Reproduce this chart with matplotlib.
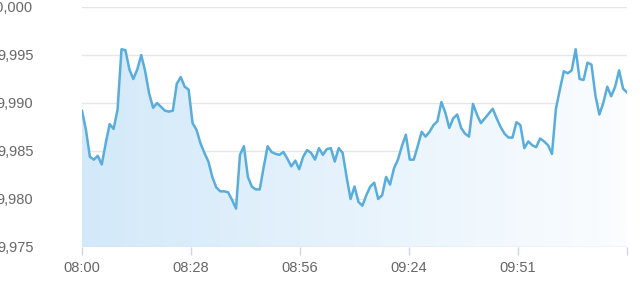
import numpy as np
import matplotlib
matplotlib.use("Agg")
import matplotlib.pyplot as plt
from matplotlib.colors import LinearSegmentedColormap

# One value per minute, starting 08:00
prices = [
    9.9892, 9.9872, 9.9844, 9.9841, 9.9845, 9.9836, 9.9858, 9.9878, 9.9873, 9.9893,
    9.9956, 9.9955, 9.9935, 9.9925, 9.9935, 9.9950, 9.9933, 9.9910, 9.9895, 9.9900,
    9.9896, 9.9892, 9.9891, 9.9892, 9.9920, 9.9927, 9.9917, 9.9914, 9.9879, 9.9872,
    9.9858, 9.9848, 9.9839, 9.9823, 9.9812, 9.9808, 9.9808, 9.9807, 9.9799, 9.9790,
    9.9846, 9.9855, 9.9823, 9.9813, 9.9810, 9.9810, 9.9833,
    9.9855, 9.9849, 9.9847, 9.9846, 9.9849, 9.9842, 9.9834, 9.9840, 9.9831, 9.9844,
    9.9851, 9.9848, 9.9841, 9.9853, 9.9846, 9.9852, 9.9853, 9.9839, 9.9853, 9.9848,
    9.9823, 9.9800, 9.9813, 9.9797, 9.9793, 9.9804, 9.9813, 9.9817, 9.9800, 9.9804,
    9.9823, 9.9815, 9.9832, 9.9841, 9.9855, 9.9867, 9.9841, 9.9841, 9.9855, 9.9870,
    9.9865, 9.9870, 9.9877, 9.9881, 9.9901, 9.9890, 9.9874,
    9.9884, 9.9888, 9.9874, 9.9868, 9.9865, 9.9899, 9.9888, 9.9879, 9.9884, 9.9889,
    9.9894, 9.9884, 9.9875, 9.9868, 9.9864, 9.9864, 9.9880, 9.9877, 9.9853, 9.9860,
    9.9856, 9.9854, 9.9863, 9.9860, 9.9856, 9.9847, 9.9894, 9.9914, 9.9933, 9.9931,
    9.9934, 9.9956, 9.9925, 9.9924, 9.9942, 9.9940, 9.9908, 9.9888, 9.9900, 9.9917,
    9.9907, 9.9917, 9.9934, 9.9915, 9.9911,
]
x_labels = ["08:00", "08:28", "08:56", "09:24", "09:51"]
y_ticks = [9.975, 9.980, 9.985, 9.990, 9.995, 10.000]

x = np.arange(len(prices))
y = np.array(prices)
x_end = x[-1]

fig = plt.figure(figsize=(6.4, 2.81), dpi=100)
ax = fig.add_axes([82 / 640, 1 - 247 / 281, 545 / 640, 240 / 281])

ymin, ymax = y_ticks[0], y_ticks[-1]

# gradient area under the line (left: light blue, right: almost white)
cmap = LinearSegmentedColormap.from_list("fade", ["#d3e9f9", "#fbfdff"])
grad = np.linspace(0, 1, 256).reshape(1, -1)
img = ax.imshow(grad, cmap=cmap, aspect="auto", extent=[0, x_end, ymin, ymax],
                origin="lower", zorder=1)
poly = ax.fill_between(x, y, ymin, color="none", lw=0)
img.set_clip_path(poly.get_paths()[0], transform=ax.transData)

ax.plot(x, y, color="#58addd", lw=1.8, zorder=3, solid_joinstyle="round")

ax.set_xlim(0, x_end)
ax.set_ylim(ymin, ymax)

# grid
for v in y_ticks[1:]:
    ax.axhline(v, color="#e6e6e6", lw=1, zorder=0)
ax.axhline(ymin, color="#ccd6eb", lw=1, zorder=2)

for s in ax.spines.values():
    s.set_visible(False)

step = x_end / 5
ticks = [i * step for i in range(6)]
ax.set_xticks(ticks)
ax.set_xticklabels(x_labels + [""])
ax.tick_params(axis="x", length=6, width=1, color="#ccd6eb", pad=4,
               labelsize=10.5, labelcolor="#666666")

ax.set_yticks(y_ticks)
ax.set_yticklabels([f"{v:.3f}".replace(".", ",") for v in y_ticks])
ax.tick_params(axis="y", length=0, pad=35, labelsize=10.5, labelcolor="#666666")

for lab in ax.get_xticklabels() + ax.get_yticklabels():
    lab.set_family("Liberation Sans")

fig.savefig("out.png", dpi=100, facecolor="white")
